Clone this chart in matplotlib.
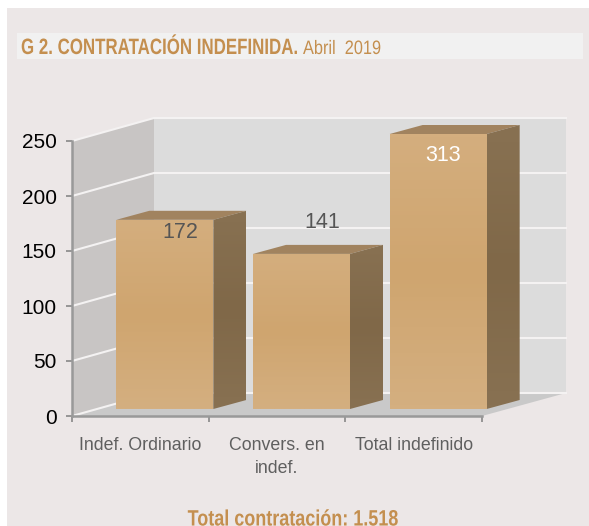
import numpy as np
import matplotlib
matplotlib.use("Agg")
import matplotlib.pyplot as plt
from matplotlib.patches import Polygon, Rectangle
from matplotlib.patheffects import AbstractPathEffect
from matplotlib.transforms import Affine2D

# Data
categories = ["Indef. Ordinario", "Convers. en\nindef.", "Total indefinido"]
values = [172, 141, 313]
y_ticks = [0, 50, 100, 150, 200, 250]
value_colors = ["#555555", "#555555", "#ffffff"]

W, H = 589, 526
plt.rcParams["font.family"] = "Liberation Sans"

fig = plt.figure(figsize=(W / 100, H / 100), dpi=100, facecolor="white")


# no condensed font is installed, so squeeze the glyphs sideways around the text anchor
class Squeeze(AbstractPathEffect):
    def __init__(self, sx, x_anchor):
        super().__init__()
        self.sx = sx
        self.x_anchor = x_anchor

    def draw_path(self, renderer, gc, tpath, affine, rgbFace=None):
        t = affine + Affine2D().translate(-self.x_anchor, 0).scale(self.sx, 1).translate(self.x_anchor, 0)
        renderer.draw_path(gc, tpath, t, rgbFace)


# background panel and title strip, in pixels from the top left
def fig_rect(x0, y0, x1, y1, color):
    fig.add_artist(Rectangle((x0 / W, 1 - y1 / H), (x1 - x0) / W, (y1 - y0) / H,
                             transform=fig.transFigure, color=color, lw=0, zorder=-5))


fig_rect(7, 8, W, H, "#ece7e7")
fig_rect(17, 33, 583, 59, "#f1f1f1")

# axes box: value 0 at y=416 px, value 250 at y=141 px
ax = fig.add_axes([72 / W, 1 - 416 / H, 410 / W, 275 / H])
ax.patch.set_visible(False)
ax.set_xlim(0, 3)
ax.set_ylim(0, 250)
px_x = 3 / 410
px_y = 250 / 275

wall_dx, wall_dy = 84 * px_x, 23 * px_y
wall_color, back_color, floor_color = "#c8c5c4", "#dcdcdc", "#c9c9c9"
top = y_ticks[-1]


def poly(pts, color, z):
    p = Polygon(pts, closed=True, facecolor=color, edgecolor="none", clip_on=False, zorder=z)
    ax.add_patch(p)
    return p


# walls and floor
poly([(0, 0), (0.6, wall_dy), (0.6, top + wall_dy), (0, top)], wall_color, 0.5)
poly([(0.6, wall_dy), (3 + wall_dx, wall_dy), (3 + wall_dx, top + wall_dy), (0.6, top + wall_dy)], back_color, 0.5)
poly([(0, 0), (3, 0), (3 + wall_dx, wall_dy), (0.6, wall_dy)], floor_color, 0.6)

# white grid on both walls
for t in y_ticks:
    ax.plot([0, 0.6, 3 + wall_dx], [t, t + wall_dy, t + wall_dy], color="#f4f2f2", lw=1.5,
            clip_on=False, zorder=0.8, solid_joinstyle="miter")

# bars, drawn as three faces with a soft vertical gradient
bar_w = 97 * px_x
off_x, off_y = 24.5 * px_x, 7 * px_y
depth_x, depth_y = 33 * px_x, 9 * px_y
front_grad = np.array([[212, 174, 126], [207, 165, 111], [212, 175, 128]]) / 255
side_grad = np.array([[136, 113, 82], [128, 104, 72], [136, 113, 82]]) / 255


def gradient_face(pts, stops, extent, z):
    clip = poly(pts, "none", z)
    n = 64
    pos = np.linspace(0, 1, n)
    img = np.stack([np.interp(pos, [0, 0.5, 1], stops[:, c]) for c in range(3)], axis=1)[:, None, :]
    im = ax.imshow(img, extent=extent, origin="upper", aspect="auto", zorder=z)
    im.set_clip_box(fig.bbox)
    im.set_clip_path(clip)


for i, v in enumerate(values):
    h = min(v, top)  # the axis stops at 250, so the tallest bar is cut there
    x0 = i + 0.5 - bar_w / 2 + off_x
    x1 = x0 + bar_w
    y0 = off_y
    y1 = off_y + h
    z = 2 + i
    poly([(x0, y1), (x1, y1), (x1 + depth_x, y1 + depth_y), (x0 + depth_x, y1 + depth_y)], "#a1835f", z)
    gradient_face([(x1, y0), (x1 + depth_x, y0 + depth_y), (x1 + depth_x, y1 + depth_y), (x1, y1)],
                  side_grad, (x1, x1 + depth_x, y0, y1 + depth_y), z)
    gradient_face([(x0, y0), (x1, y0), (x1, y1), (x0, y1)], front_grad, (x0, x1, y0, y1), z + 0.1)

ax.set_xlim(0, 3)
ax.set_ylim(0, 250)

# value labels sit at odd spots in the original, offsets in pixels from the bar top centre
label_offsets = [(15.5, -13), (21, 31), (5, -22)]
for i, v in enumerate(values):
    h = min(v, top)
    ax.annotate(str(v), xy=(i + 0.5 + off_x, off_y + h), xytext=(label_offsets[i][0] * 0.72, label_offsets[i][1] * 0.72),
                textcoords="offset points", ha="center", va="center", fontsize=15.5,
                color=value_colors[i], zorder=10, annotation_clip=False)

# axis lines
for s in ["top", "right"]:
    ax.spines[s].set_visible(False)
for s in ["left", "bottom"]:
    ax.spines[s].set_color("#999999")
    ax.spines[s].set_linewidth(1.8)
    ax.spines[s].set_zorder(20)
ax.set_yticks(y_ticks)
ax.tick_params(axis="y", length=4, width=1.2, color="#888888", labelsize=15, labelcolor="black", pad=7)
ax.set_xticks([0, 1, 2, 3])
ax.set_xticklabels([])
ax.tick_params(axis="x", which="major", length=4, width=1.2, color="#888888")
ax.set_xticks([0.5, 1.5, 2.5], minor=True)
ax.set_xticklabels(categories, minor=True, fontsize=12.8, color="#5f5f5f", linespacing=1.5)
ax.tick_params(axis="x", which="minor", length=0, pad=15)

# title and footer
title_color = "#c48f4f"


def squeezed_text(x_px, y_px, s, sx, ha="left", **kw):
    t = fig.text(x_px / W, 1 - y_px / H, s, color=title_color, va="baseline", ha=ha, **kw)
    t.set_path_effects([Squeeze(sx, x_px)])
    return t


squeezed_text(21, 54, "G 2. CONTRATACIÓN INDEFINIDA.", 0.76, weight="bold", fontsize=16)
squeezed_text(303, 54, "Abril  2019", 0.84, fontsize=14)
squeezed_text(293, 525.5, "Total contratación: 1.518", 0.81, ha="center", weight="bold", fontsize=16)

fig.savefig("out.png", dpi=100, facecolor="white")
